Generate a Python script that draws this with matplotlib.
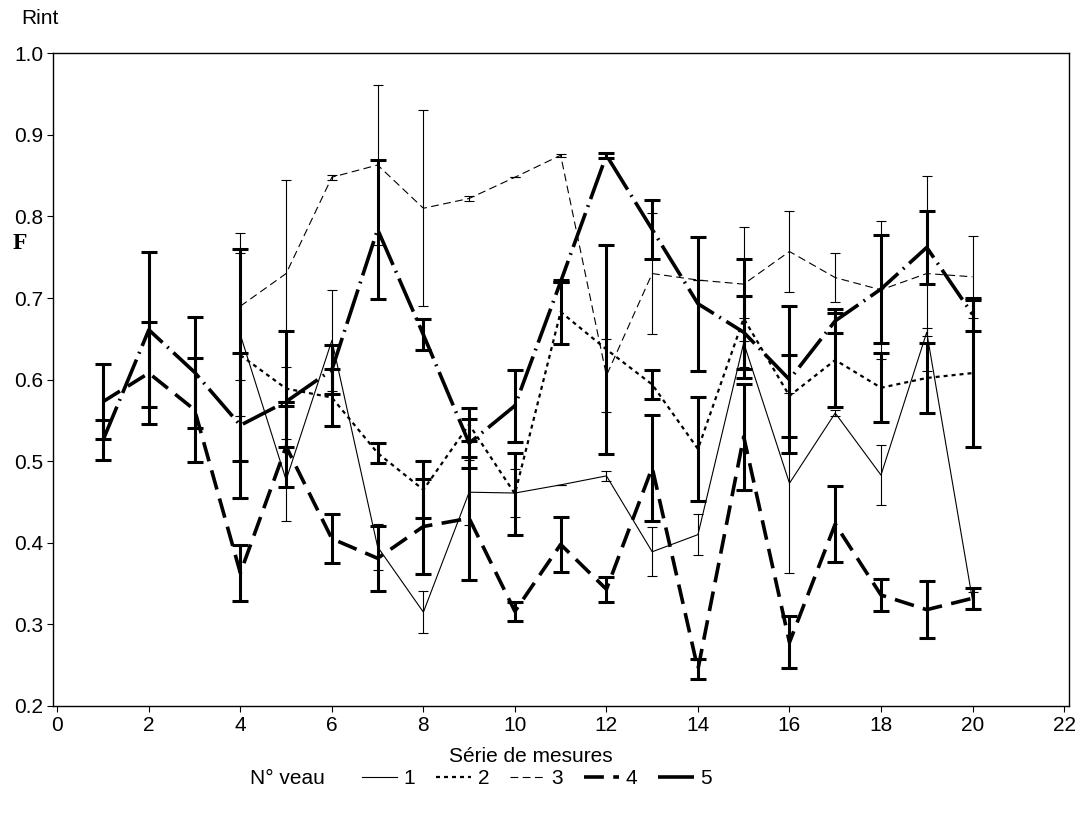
import numpy as np
import matplotlib.pyplot as plt

# Séries de mesures (1..20)
x_all = list(range(1, 21))
x_late = list(range(4, 21))

# veau 1 (mesures 4..20)
v1 = [0.655, 0.477, 0.648, 0.395, 0.315, 0.462, 0.461, 0.471, 0.482, 0.389,
      0.41, 0.645, 0.473, 0.559, 0.483, 0.658, 0.33]
e1 = [0.10, 0.05, 0.062, 0.028, 0.026, 0.04, 0.03, 0.0, 0.006, 0.03,
      0.025, 0.03, 0.11, 0.004, 0.037, 0.005, 0.01]
# veau 2 (mesures 4..20)
v2 = [0.63, 0.589, 0.578, 0.51, 0.465, 0.545, 0.46, 0.683, 0.637, 0.594,
      0.515, 0.675, 0.58, 0.624, 0.59, 0.602, 0.608]
e2 = [0.13, 0.071, 0.035, 0.012, 0.035, 0.02, 0.05, 0.039, 0.128, 0.018,
      0.064, 0.073, 0.05, 0.058, 0.042, 0.043, 0.09]
# veau 3 (mesures 4..20)
v3 = [0.69, 0.73, 0.848, 0.863, 0.81, 0.822, 0.848, 0.875, 0.605, 0.73,
      0.722, 0.717, 0.757, 0.725, 0.71, 0.73, 0.726]
e3 = [0.09, 0.115, 0.003, 0.098, 0.12, 0.003, 0.0, 0.002, 0.045, 0.074,
      0.0, 0.07, 0.05, 0.03, 0.085, 0.12, 0.05]
# veau 4 (mesures 1..20)
v4 = [0.573, 0.608, 0.563, 0.363, 0.518, 0.405, 0.381, 0.42, 0.43, 0.316,
      0.398, 0.343, 0.492, 0.245, 0.53, 0.278, 0.423, 0.336, 0.318, 0.332]
e4 = [0.046, 0.063, 0.064, 0.034, 0.05, 0.03, 0.04, 0.058, 0.075, 0.012,
      0.034, 0.015, 0.065, 0.012, 0.065, 0.032, 0.046, 0.02, 0.035, 0.013]
# veau 5 (mesures 1..20)
v5 = [0.526, 0.661, 0.609, 0.544, 0.573, 0.612, 0.784, 0.655, 0.522, 0.568,
      0.72, 0.875, 0.784, 0.693, 0.658, 0.6, 0.672, 0.711, 0.762, 0.68]
e5 = [0.025, 0.095, 0.068, 0.089, 0.0, 0.03, 0.085, 0.019, 0.03, 0.044,
      0.0, 0.003, 0.036, 0.082, 0.045, 0.09, 0.015, 0.066, 0.045, 0.02]

plt.rcParams['font.family'] = ['Liberation Sans', 'DejaVu Sans']

fig = plt.figure(figsize=(10.83, 8.19), dpi=100)
ax = fig.add_axes([0.0487, 0.138, 0.938, 0.797])

series = [
    (x_late, v1, e1, '1', dict(lw=0.8, ls='-'), 0.8, 3.5),
    (x_late, v2, e2, '2', dict(lw=1.6, dashes=(1.8, 1.8)), 2.2, 6),
    (x_late, v3, e3, '3', dict(lw=0.8, dashes=(7, 4)), 0.8, 3.5),
    (x_all, v4, e4, '4', dict(lw=2.6, dashes=(5.5, 2.6)), 2.2, 6),
    (x_all, v5, e5, '5', dict(lw=2.6, dashes=(10, 1.8, 0.5, 1.8)), 2.2, 6),
]

handles = []
for xs, ys, es, lab, style, elw, cap in series:
    ax.errorbar(xs, ys, yerr=es, fmt='none', ecolor='black',
                elinewidth=elw, capsize=cap, capthick=elw)
    h, = ax.plot(xs, ys, color='black', label=lab, **style)
    handles.append(h)

ax.set_xlim(-0.1, 22.1)
ax.set_ylim(0.2, 1.0)
ax.set_xticks(range(0, 23, 2))
ax.set_yticks(np.arange(0.2, 1.01, 0.1))
ax.set_yticklabels([f'{t:.1f}' for t in np.arange(0.2, 1.01, 0.1)])
ax.tick_params(direction='out', length=4, width=0.8, labelsize=15, pad=3)
for s in ax.spines.values():
    s.set_linewidth(1.0)

ax.set_xlabel('Série de mesures', fontsize=15)
ax.xaxis.set_label_coords(0.4706, -0.063)
fig.text(0.02, 0.977, 'Rint', fontsize=15, ha='left', va='center')
fig.text(0.012, 0.703, 'F', fontsize=17, fontweight='bold',
         family=['Liberation Serif', 'DejaVu Serif'], ha='left', va='center')

fig.text(0.231, 0.049, 'N° veau', fontsize=15, ha='left', va='center')
fig.legend(handles=handles, labels=['1', '2', '3', '4', '5'],
           loc='center left', bbox_to_anchor=(0.334, 0.049), ncol=5,
           frameon=False, fontsize=15, handlelength=1.7, handletextpad=0.3,
           columnspacing=1.0, borderpad=0, borderaxespad=0)

fig.savefig('out.png', dpi=100)
